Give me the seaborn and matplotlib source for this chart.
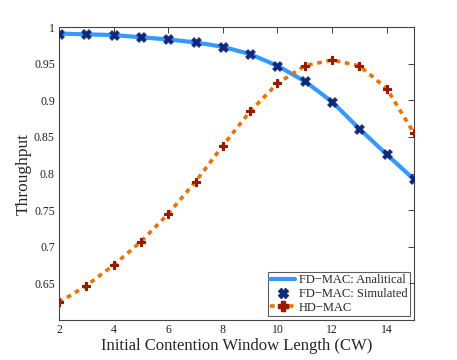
import matplotlib
matplotlib.use("Agg")
import matplotlib.pyplot as plt
import seaborn as sns
import pandas as pd
from matplotlib.lines import Line2D

cw = [2, 3, 4, 5, 6, 7, 8, 9, 10, 11, 12, 13, 14, 15]
fd_analytical = [0.991, 0.990, 0.989, 0.986, 0.983, 0.979, 0.973, 0.963, 0.947, 0.926, 0.898, 0.861, 0.826, 0.792]
fd_simulated = [0.991, 0.990, 0.989, 0.986, 0.983, 0.979, 0.973, 0.963, 0.947, 0.926, 0.898, 0.861, 0.826, 0.792]
hd_mac = [0.624, 0.647, 0.675, 0.707, 0.745, 0.789, 0.838, 0.885, 0.923, 0.947, 0.955, 0.947, 0.916, 0.855]
labels = ["FD\u2212MAC: Analitical", "FD\u2212MAC: Simulated", "HD\u2212MAC"]

sns.set_style("white")
plt.rcParams["font.family"] = ["Liberation Serif", "DejaVu Serif"]

df = pd.DataFrame({"cw": cw, "fa": fd_analytical, "fs": fd_simulated, "hd": hd_mac})

fig = plt.figure(figsize=(4.57, 3.6), dpi=100)
ax = fig.add_axes([0.129, 0.111, 0.777, 0.814])

c_line = "#3399ff"
c_sim = "#10287a"
c_hd = "#f07000"
c_hdm = "#9a1a00"
dash = (0, (1.3, 1.3))

sns.lineplot(data=df, x="cw", y="fa", ax=ax, color=c_line, linewidth=3.0, zorder=2)
sns.lineplot(data=df, x="cw", y="hd", ax=ax, color=c_hd, linewidth=2.6,
             linestyle=dash, zorder=2)
sns.scatterplot(data=df, x="cw", y="fs", ax=ax, marker="X", s=50, color=c_sim,
                edgecolor=c_sim, linewidth=0.5, zorder=3)
sns.scatterplot(data=df, x="cw", y="hd", ax=ax, marker="P", s=40, color=c_hdm,
                edgecolor=c_hdm, linewidth=0.8, zorder=3)

ax.set_xlim(2, 15)
ax.set_ylim(0.6, 1.0)
ax.set_xticks([2, 4, 6, 8, 10, 12, 14])
ax.set_yticks([0.65, 0.7, 0.75, 0.8, 0.85, 0.9, 0.95, 1.0])
ax.set_yticklabels(["0.65", "0.7", "0.75", "0.8", "0.85", "0.9", "0.95", "1"])
ax.tick_params(direction="in", length=4, width=0.6, labelsize=8.5, pad=3, top=True, right=True,
               colors="#222222", labelcolor="#222222")
for s in ax.spines.values():
    s.set_color("#444444")
    s.set_linewidth(0.8)

ax.set_xlabel("Initial Contention Window Length (CW)", fontsize=12, labelpad=1)
ax.set_ylabel("Throughput", fontsize=12.5, labelpad=1.5)

handles = [
    Line2D([], [], color=c_line, linewidth=3.0),
    Line2D([], [], color=c_sim, marker="X", linestyle="none", markersize=6.5),
    Line2D([], [], color=c_hd, linewidth=2.6, linestyle=dash, marker="P",
           markerfacecolor=c_hdm, markeredgecolor=c_hdm, markersize=6.5),
]
leg = ax.legend(handles, labels, loc="lower right", fontsize=9, frameon=True,
                fancybox=False, borderpad=0.2, labelspacing=0.15, handlelength=2.0,
                handletextpad=0.3, borderaxespad=0.3)
leg.get_frame().set_edgecolor("#333333")
leg.get_frame().set_linewidth(0.8)

fig.savefig("out.png", dpi=100)
